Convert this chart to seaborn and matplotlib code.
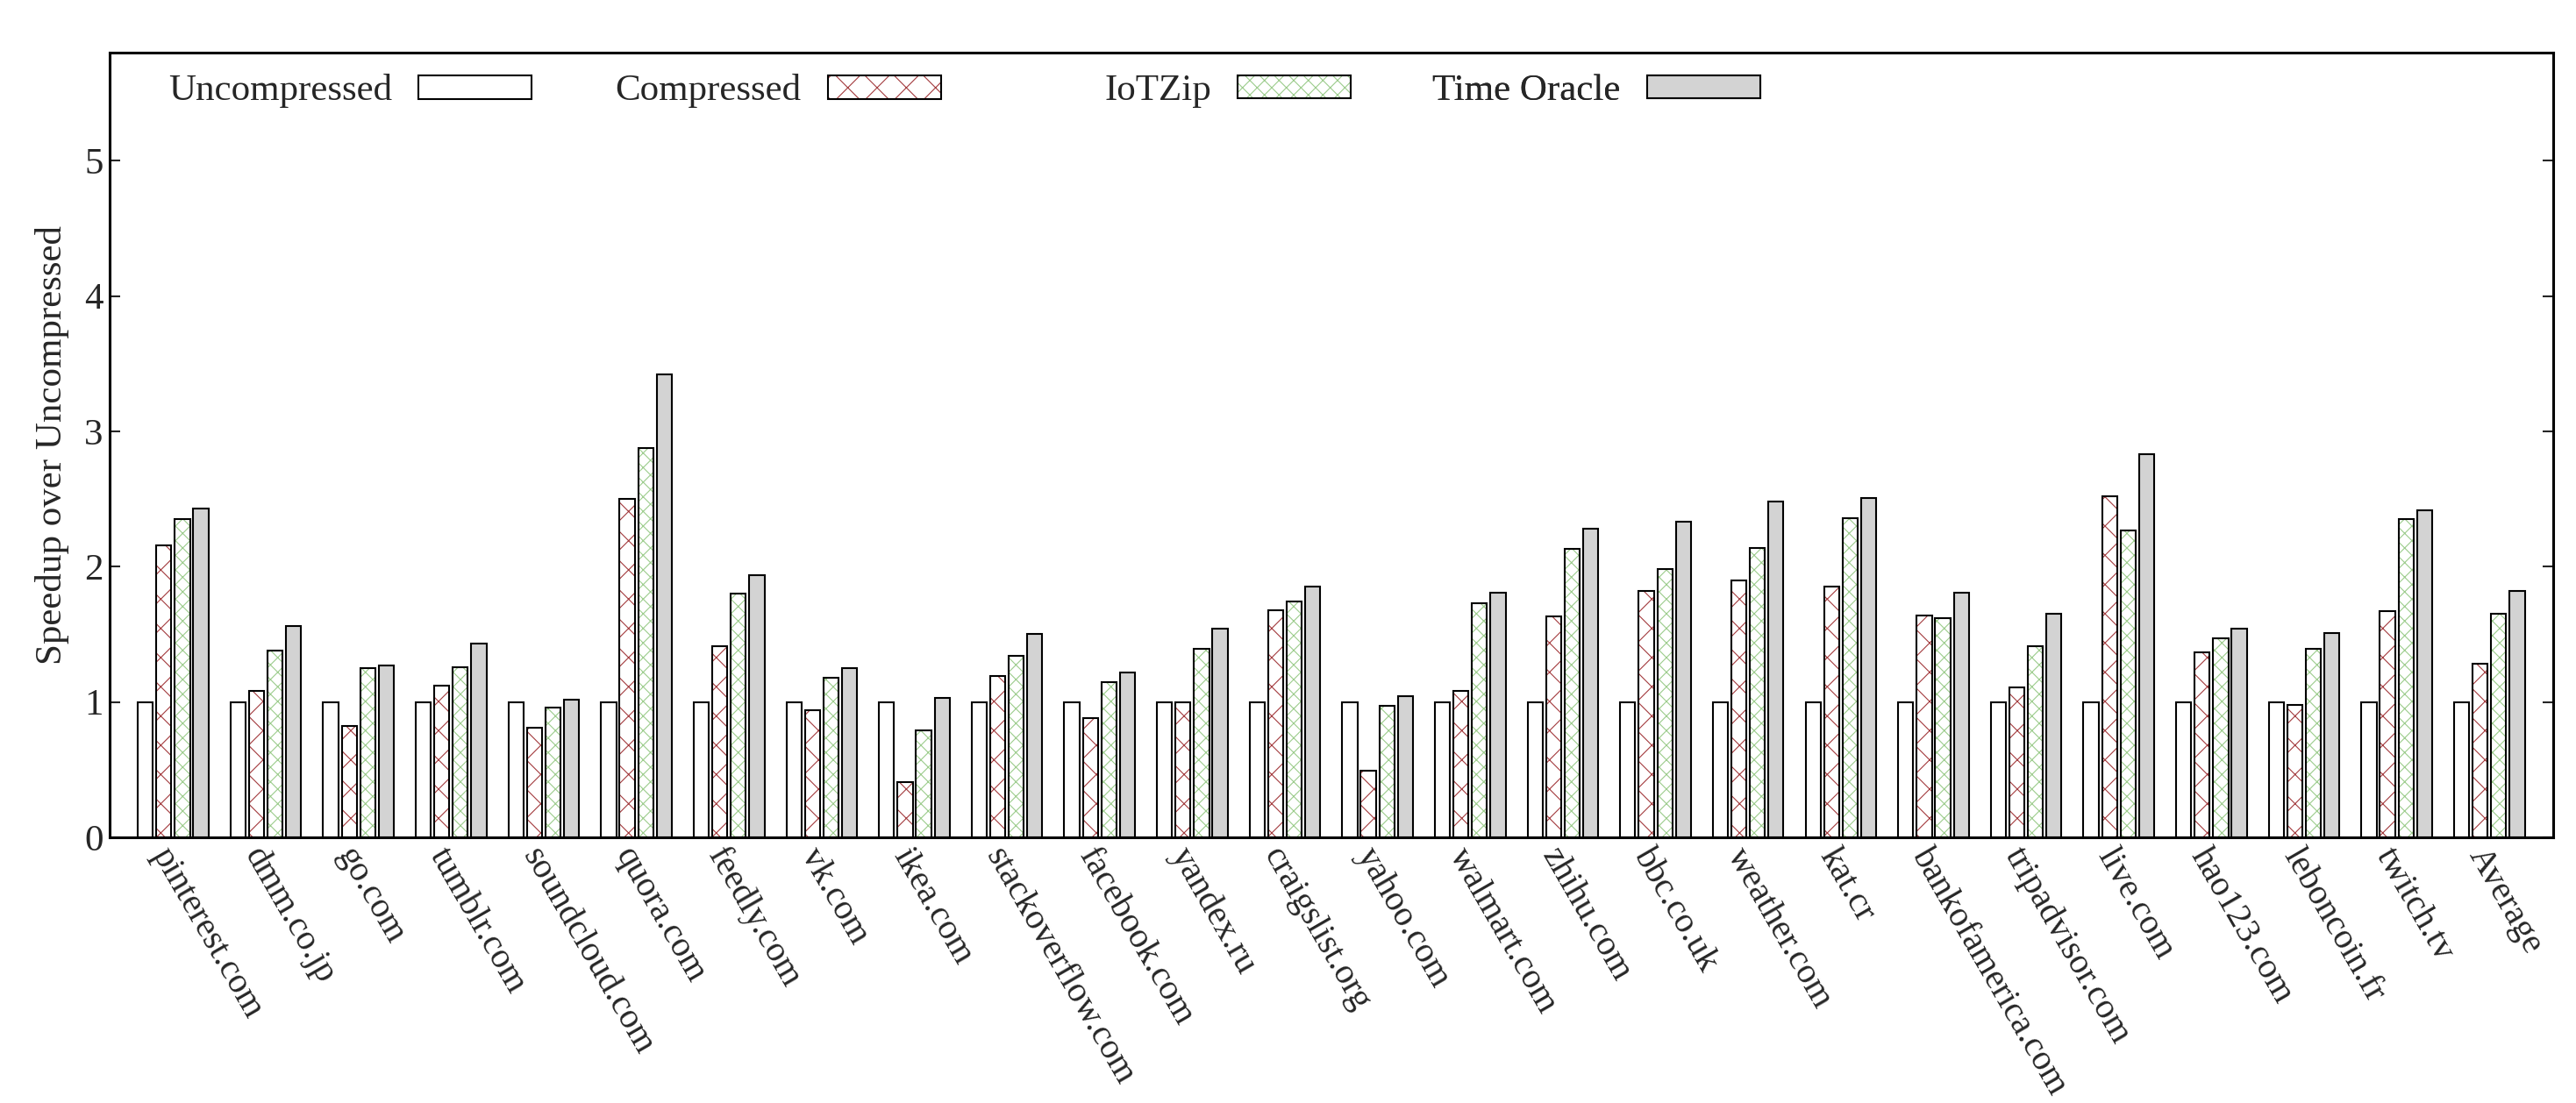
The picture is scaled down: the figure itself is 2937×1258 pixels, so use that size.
import pandas as pd
import matplotlib
matplotlib.use("Agg")
import matplotlib.pyplot as plt
from matplotlib.patches import Patch, Rectangle
import seaborn as sns

sites = ["pinterest.com", "dmm.co.jp", "go.com", "tumblr.com", "soundcloud.com",
         "quora.com", "feedly.com", "vk.com", "ikea.com", "stackoverflow.com",
         "facebook.com", "yandex.ru", "craigslist.org", "yahoo.com", "walmart.com",
         "zhihu.com", "bbc.co.uk", "weather.com", "kat.cr", "bankofamerica.com",
         "tripadvisor.com", "live.com", "hao123.com", "leboncoin.fr", "twitch.tv",
         "Average"]

uncompressed = [1.0] * 26
compressed = [2.16, 1.08, 0.82, 1.12, 0.81, 2.50, 1.41, 0.94, 0.41, 1.19,
              0.88, 1.00, 1.68, 0.49, 1.08, 1.63, 1.82, 1.90, 1.85, 1.64,
              1.11, 2.52, 1.37, 0.98, 1.67, 1.28]
iotzip = [2.35, 1.38, 1.25, 1.26, 0.96, 2.88, 1.80, 1.18, 0.79, 1.34,
          1.15, 1.39, 1.74, 0.97, 1.73, 2.13, 1.98, 2.14, 2.36, 1.62,
          1.41, 2.27, 1.47, 1.39, 2.35, 1.65]
oracle = [2.43, 1.56, 1.27, 1.43, 1.02, 3.42, 1.94, 1.25, 1.03, 1.50,
          1.22, 1.54, 1.85, 1.04, 1.81, 2.28, 2.33, 2.48, 2.51, 1.81,
          1.65, 2.83, 1.54, 1.51, 2.42, 1.82]

series = ["Uncompressed", "Compressed", "IoTZip", "Time Oracle"]

df = pd.DataFrame({
    "site": sites * 4,
    "series": [s for s in series for _ in sites],
    "speedup": uncompressed + compressed + iotzip + oracle,
})

sns.set_style("white")
plt.rcParams["font.family"] = ["Liberation Serif", "DejaVu Serif"]
plt.rcParams["hatch.linewidth"] = 0.8

red = "#a33b3e"
green = "#9ccc8c"
gray = "#d3d3d3"

fig = plt.figure(figsize=(29.37, 12.58), dpi=100)
ax = fig.add_axes([0.0424, 0.2409, 0.9488, 0.7114])

sns.barplot(data=df, x="site", y="speedup", hue="series", hue_order=series,
            palette={"Uncompressed": "white", "Compressed": "white",
                     "IoTZip": "white", "Time Oracle": gray},
            saturation=1, width=0.8, gap=0.185, errorbar=None,
            edgecolor="black", linewidth=1.5, legend=False, ax=ax)

# hatch colour differs from the outline, so draw outline on top
for cont, hatch, hc in [(ax.containers[1], "x", red), (ax.containers[2], "xx", green)]:
    for bar in cont:
        bar.set_hatch(hatch)
        bar.set_edgecolor(hc)
        bar.set_linewidth(0)
        ax.add_patch(Rectangle(bar.get_xy(), bar.get_width(), bar.get_height(),
                               fill=False, edgecolor="black", linewidth=1.5, zorder=3))

ax.set_xlim(-0.69, 25.69)
ax.set_ylim(0, 5.8)
ax.set_yticks([0, 1, 2, 3, 4, 5])
ax.set_xlabel("")
ax.set_ylabel("Speedup over Uncompressed", fontsize=31, labelpad=12)

for sp in ax.spines.values():
    sp.set_visible(True)
    sp.set_linewidth(2.2)
    sp.set_color("black")

ax.tick_params(axis="y", direction="in", length=8.5, width=1.5, labelsize=31,
               left=True, right=True, pad=5)
ax.tick_params(axis="x", length=0, labelsize=29, pad=4)
for lab in ax.get_xticklabels():
    lab.set_rotation(-60)
    lab.set_ha("left")
    lab.set_va("top")
    lab.set_rotation_mode("anchor")

# one legend per entry, gnuplot style: label then swatch
handles = [
    Patch(facecolor="white", edgecolor="black", linewidth=1.5),
    (Patch(facecolor="white", edgecolor=red, hatch="x", linewidth=0),
     Patch(facecolor="none", edgecolor="black", linewidth=1.5)),
    (Patch(facecolor="white", edgecolor=green, hatch="xx", linewidth=0),
     Patch(facecolor="none", edgecolor="black", linewidth=1.5)),
    Patch(facecolor=gray, edgecolor="black", linewidth=1.5),
]
anchors = [0.1728, 0.3404, 0.5080, 0.6756]
for h, name, xa in zip(handles, series, anchors):
    leg = ax.legend([h], [name], loc="center right", bbox_to_anchor=(xa, 0.951),
                    frameon=False, markerfirst=False, fontsize=31,
                    handlelength=3.0, handleheight=0.58, handletextpad=0.7,
                    borderpad=0, borderaxespad=0)
    ax.add_artist(leg)

fig.savefig("out.png", dpi=100)
